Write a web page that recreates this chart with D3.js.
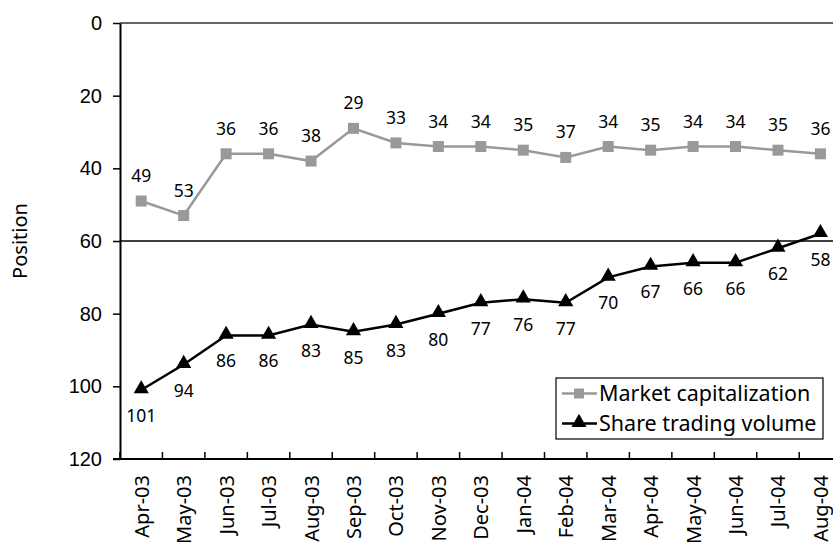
<!DOCTYPE html>
<html>
<head>
<meta charset="utf-8">
<script src="https://cdn.jsdelivr.net/npm/d3@7/dist/d3.min.js"></script>
<style>
  html, body { margin: 0; padding: 0; background: #fff; }
  svg { display: block; font-family: "Noto Sans", "Open Sans", sans-serif; }
</style>
</head>
<body>
<svg id="chart" width="833" height="547"></svg>
<script>
// Monthly ranking positions (lower number = better rank)
const months = ["Apr-03","May-03","Jun-03","Jul-03","Aug-03","Sep-03","Oct-03","Nov-03","Dec-03",
                "Jan-04","Feb-04","Mar-04","Apr-04","May-04","Jun-04","Jul-04","Aug-04"];
const marketCap = [49,53,36,36,38,29,33,34,34,35,37,34,35,34,34,35,36];
const tradingVolume = [101,94,86,86,83,85,83,80,77,76,77,70,67,66,66,62,58];
const yTicks = [0,20,40,60,80,100,120];
const referenceLine = 60;

const svg = d3.select("#chart");
const margin = { left: 120, top: 23, bottom: 459 };
const bandWidth = 42.45;
const plotRight = margin.left + bandWidth * months.length;

const x = d3.scaleBand().domain(months).range([margin.left, plotRight]).paddingInner(0).paddingOuter(0);
const y = d3.scaleLinear().domain([0, 120]).range([margin.top, margin.bottom]);
const cx = d => x(d) + x.bandwidth() / 2;

// plot frame (top and right)
svg.append("path")
  .attr("d", `M${margin.left},${margin.top}H${plotRight}V${margin.bottom}`)
  .attr("fill", "none").attr("stroke", "#333").attr("stroke-width", 1.5);

// reference line at 60
svg.append("line")
  .attr("x1", margin.left).attr("x2", plotRight)
  .attr("y1", y(referenceLine)).attr("y2", y(referenceLine))
  .attr("stroke", "#000").attr("stroke-width", 1.5);

// y axis
const yAxis = svg.append("g")
  .attr("transform", `translate(${margin.left},0)`)
  .call(d3.axisLeft(y).tickValues(yTicks).tickSize(7).tickPadding(11).tickSizeOuter(0));
yAxis.select(".domain").attr("stroke", "#000").attr("stroke-width", 2);
yAxis.selectAll(".tick line").attr("stroke", "#000").attr("stroke-width", 1.5);
yAxis.selectAll("text").attr("font-size", 20).attr("fill", "#000").style("font-family", "inherit");

// x axis with inward ticks at category boundaries
const xAxisG = svg.append("g").attr("transform", `translate(0,${margin.bottom})`);
xAxisG.append("line").attr("x1", margin.left - 7).attr("x2", plotRight)
  .attr("stroke", "#000").attr("stroke-width", 2);
xAxisG.selectAll("line.tk").data(d3.range(months.length + 1)).join("line")
  .attr("class", "tk")
  .attr("x1", i => margin.left + i * x.bandwidth()).attr("x2", i => margin.left + i * x.bandwidth())
  .attr("y1", 0).attr("y2", -7)
  .attr("stroke", "#000").attr("stroke-width", 1.5);
xAxisG.selectAll("text").data(months).join("text")
  .attr("transform", d => `translate(${cx(d) + 7.5},${16}) rotate(-90)`)
  .attr("text-anchor", "end")
  .attr("font-size", 20)
  .text(d => d);

// y axis title
svg.append("text")
  .attr("transform", `translate(${27},${y(60)}) rotate(-90)`)
  .attr("text-anchor", "middle")
  .attr("font-size", 20)
  .text("Position");

const line = d3.line().x((d, i) => cx(months[i])).y(d => y(d));

// market capitalization series
svg.append("path").datum(marketCap)
  .attr("d", line).attr("fill", "none").attr("stroke", "#999").attr("stroke-width", 2.5);
svg.selectAll("rect.mc").data(marketCap).join("rect")
  .attr("class", "mc")
  .attr("x", (d, i) => cx(months[i]) - 5.5).attr("y", d => y(d) - 5.5)
  .attr("width", 11).attr("height", 11).attr("fill", "#999");
svg.selectAll("text.mcl").data(marketCap).join("text")
  .attr("class", "mcl")
  .attr("x", (d, i) => cx(months[i])).attr("y", d => y(d) - 19)
  .attr("text-anchor", "middle").attr("font-size", 17.5)
  .text(d => d);

// share trading volume series
const tri = d3.symbol().type(d3.symbolTriangle).size(100);
svg.append("path").datum(tradingVolume)
  .attr("d", line).attr("fill", "none").attr("stroke", "#000").attr("stroke-width", 2.5);
svg.selectAll("path.tv").data(tradingVolume).join("path")
  .attr("class", "tv")
  .attr("transform", (d, i) => `translate(${cx(months[i])},${y(d) - 1})`)
  .attr("d", tri).attr("fill", "#000");
svg.selectAll("text.tvl").data(tradingVolume).join("text")
  .attr("class", "tvl")
  .attr("x", (d, i) => cx(months[i])).attr("y", d => y(d) + 32)
  .attr("text-anchor", "middle").attr("font-size", 17.5)
  .text(d => d);

// legend
const lg = svg.append("g").attr("transform", "translate(556,378)");
lg.append("rect").attr("x", 0).attr("y", 0).attr("width", 267).attr("height", 61)
  .attr("fill", "#fff").attr("stroke", "#000").attr("stroke-width", 1.2);
const items = [
  { name: "Market capitalization", color: "#999", shape: "square" },
  { name: "Share trading volume", color: "#000", shape: "triangle" }
];
items.forEach((it, i) => {
  const gy = 15.5 + i * 30;
  lg.append("line").attr("x1", 6).attr("x2", 41).attr("y1", gy).attr("y2", gy)
    .attr("stroke", it.color).attr("stroke-width", 2.5);
  if (it.shape === "square") {
    lg.append("rect").attr("x", 23 - 5).attr("y", gy - 5).attr("width", 10).attr("height", 10).attr("fill", it.color);
  } else {
    lg.append("path").attr("transform", `translate(23,${gy - 1})`).attr("d", tri).attr("fill", it.color);
  }
  lg.append("text").attr("x", 43).attr("y", gy + 7.5).attr("font-size", 21.5).text(it.name);
});
</script>
</body>
</html>
